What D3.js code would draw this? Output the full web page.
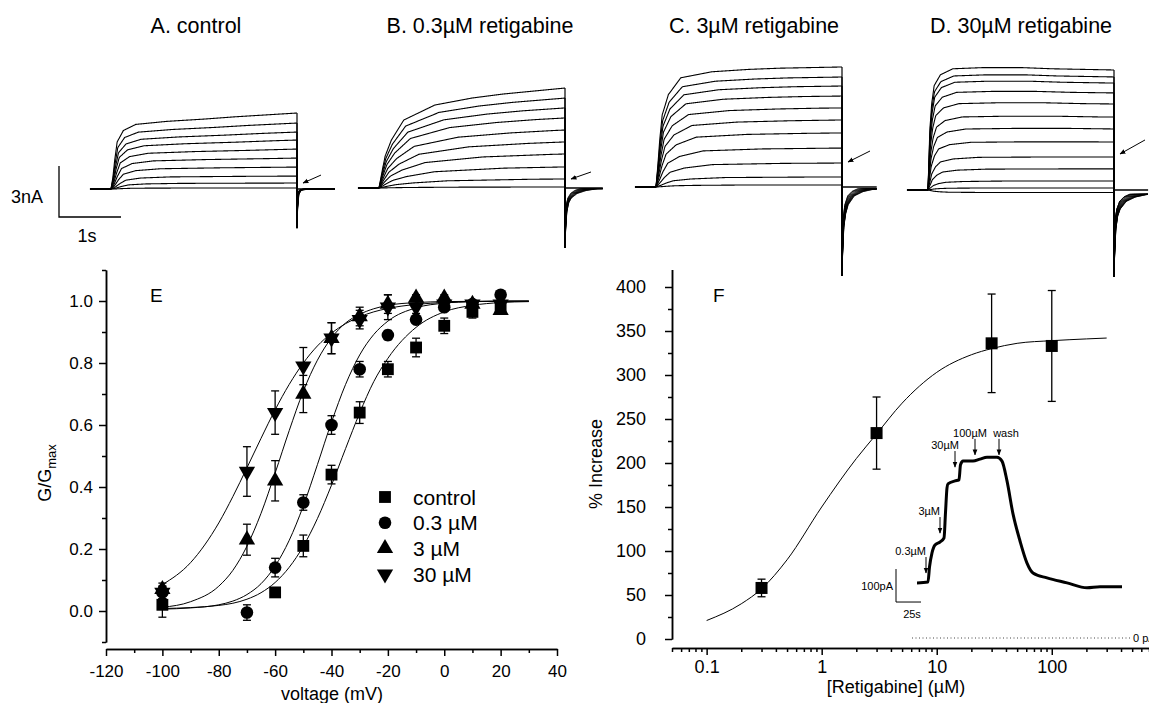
<!DOCTYPE html>
<html>
<head>
<meta charset="utf-8">
<script src="https://cdnjs.cloudflare.com/ajax/libs/d3/7.8.5/d3.min.js"></script>
<style>
  body { margin: 0; background: #fff; }
  svg { display: block; font-family: "Liberation Sans", Arial, sans-serif; }
</style>
</head>
<body>
<svg id="fig" width="1149" height="703"></svg>
<script>

// ---------- A-D: current traces ----------
const traceTitles = ["A. control", "B. 0.3\u00b5M retigabine", "C. 3\u00b5M retigabine", "D. 30\u00b5M retigabine"];

// current at the end of the 3 s step, one value per sweep (nA)
const ampControl = [4.47, 3.88, 3.35, 2.88, 2.35, 1.82, 1.29, 0.76, 0.35, 0.06];
const ampRtg03 = [5.88, 5.29, 4.71, 4.12, 3.41, 2.71, 2.0, 1.24, 0.53, 0.06];
const ampRtg3 = [7.06, 6.47, 5.94, 5.35, 4.65, 3.94, 3.18, 2.29, 1.41, 0.59, 0.12];
const ampRtg30 = [7.06, 6.65, 6.29, 5.71, 5.06, 4.29, 3.59, 2.82, 1.94, 1.24, 0.53, 0.12, -0.15];

// activation time course of the largest sweep (fraction of end current)
const riseTime = [0, 0.03, 0.06, 0.1, 0.2, 0.4, 0.9, 1.5, 2, 3];
const riseControl = [0, 0.15, 0.38, 0.62, 0.77, 0.85, 0.89, 0.92, 0.95, 1];
const riseRtg03 = [0, 0.10, 0.20, 0.32, 0.48, 0.68, 0.83, 0.90, 0.94, 1];
const riseRtg3 = [0, 0.18, 0.39, 0.60, 0.77, 0.91, 0.96, 0.98, 0.99, 1];
const riseRtg30 = [0, 0.50, 0.72, 0.87, 0.96, 1.01, 1.02, 1.02, 1.01, 1];

// tail current after the step (fraction of peak), and peak (nA)
const tailTime = [0, 0.01, 0.03, 0.06, 0.1, 0.2, 0.35, 0.55];
const tailControl = [1, 0.5, 0.15, 0.05, 0.02, 0.005, 0, 0];
const tailRtg03 = [1, 0.7, 0.4, 0.25, 0.17, 0.09, 0.04, 0.01];
const tailRtg3 = [1, 0.75, 0.45, 0.3, 0.2, 0.1, 0.05, 0.02];
const tailRtg30 = [1, 0.75, 0.45, 0.3, 0.22, 0.13, 0.08, 0.05];
const tailPeak = [-2.3, -3.5, -5.2, -5.1];
// level the small arrows point at (nA, just after the step)
const arrowLevel = [0.35, 0.53, 1.47, 2.12];

// ---------- E: conductance-voltage ----------
const eVolt = [-100, -70, -60, -50, -40, -30, -20, -10, 0, 10, 20];
const eControl = [0.02, null, 0.06, 0.21, 0.44, 0.64, 0.78, 0.85, 0.92, 0.965, 0.98];
const eControlErr = [0.04, null, 0.01, 0.035, 0.03, 0.035, 0.025, 0.03, 0.025, 0.02, 0.02];
const eRtg03 = [0.06, -0.005, 0.14, 0.35, 0.60, 0.78, 0.89, 0.94, 0.98, 0.99, 1.02];
const eRtg03Err = [0.02, 0.025, 0.03, 0.025, 0.03, 0.025, 0.015, 0.01, 0.01, 0.01, 0.01];
const eRtg3 = [0.07, 0.23, 0.42, 0.70, 0.88, 0.95, 0.99, 1.01, 1.01, 0.99, 0.97];
const eRtg3Err = [0.02, 0.05, 0.065, 0.06, 0.05, 0.03, 0.03, 0.01, 0.01, 0.01, 0.01];
const eRtg30 = [0.06, 0.45, 0.64, 0.79, 0.88, 0.94, 0.98, 0.98, 0.99, 0.99, 0.99];
const eRtg30Err = [0.02, 0.08, 0.07, 0.06, 0.05, 0.03, 0.04, 0.02, 0.01, 0.01, 0.01];
const eNames = ["control", "0.3 \u00b5M", "3 \u00b5M", "30 \u00b5M"];

// fitted curves
const fitVolt = [-100, -90, -80, -75, -70, -65, -60, -55, -50, -45, -40, -35, -30, -25, -20, -10, 0, 10, 20, 30];
const fitControl = [0.008, 0.011, 0.018, 0.025, 0.038, 0.059, 0.092, 0.141, 0.209, 0.298, 0.406, 0.524, 0.639, 0.740, 0.815, 0.915, 0.965, 0.986, 0.995, 0.998];
const fitRtg03 = [0.006, 0.010, 0.020, 0.032, 0.053, 0.088, 0.145, 0.228, 0.339, 0.472, 0.609, 0.731, 0.826, 0.892, 0.935, 0.978, 0.993, 0.998, 0.999, 1.0];
const fitRtg3 = [0.012, 0.030, 0.080, 0.131, 0.209, 0.315, 0.445, 0.582, 0.709, 0.809, 0.881, 0.929, 0.957, 0.975, 0.986, 0.995, 0.998, 0.999, 1.0, 1.0];
const fitRtg30 = [0.085, 0.156, 0.284, 0.369, 0.462, 0.557, 0.649, 0.731, 0.800, 0.855, 0.896, 0.927, 0.949, 0.965, 0.976, 0.989, 0.995, 0.998, 0.999, 0.999];

const eXTicks = [-120, -100, -80, -60, -40, -20, 0, 20, 40];
const eYTicks = [0.0, 0.2, 0.4, 0.6, 0.8, 1.0];

// ---------- F: concentration-response ----------
const fConc = [0.3, 3, 30, 100];
const fIncrease = [58, 234, 336, 333];
const fErr = [10, 41, 56, 63];
const fitConc = [0.1, 0.2, 0.3, 0.5, 1, 2, 3, 5, 10, 20, 30, 50, 100, 200, 300];
const fitIncrease = [21, 40, 57, 90, 150, 205, 233, 268, 303, 323, 330, 336, 339, 341, 342];
const fXTicks = [0.1, 1, 10, 100];
const fYTicks = [0, 50, 100, 150, 200, 250, 300, 350, 400];

// inset: holding current during cumulative application (s, pA)
const insetTime = [0, 11, 12.5, 15, 18, 23, 27, 28.5, 30, 31, 38, 42, 43.5, 46, 56, 63, 70, 80, 85, 90, 96, 103, 110, 116, 130, 150, 170, 183, 205];
const insetCurrent = [167, 170, 215, 258, 282, 291, 303, 380, 455, 467, 476, 479, 525, 536, 536, 542, 548, 548, 536, 476, 376, 294, 227, 197, 182, 167, 152, 155, 155];
const insetEvents = ["0.3\u00b5M", "3\u00b5M", "30\u00b5M", "100\u00b5M", "wash"];
const insetEventTime = [9, 23, 38, 58, 82];
const insetEventLevel = [197, 318, 518, 555, 555];


const svg = d3.select('#fig');
svg.append('rect').attr('width', 1149).attr('height', 703).attr('fill', '#fff');

svg.append('defs').append('marker')
    .attr('id', 'head')
    .attr('viewBox', '0 0 10 10')
    .attr('refX', 9).attr('refY', 5)
    .attr('markerWidth', 6).attr('markerHeight', 6)
    .attr('orient', 'auto')
    .append('path')
    .attr('d', 'M0,1 L10,5 L0,9 z')
    .attr('fill', '#000');


// ================= traces =================
const pxPerSec = 62, pxPerNA = 17;
const panelLayout = [
  {x0: 111, y0: 189, tStart: -0.34, tEnd: 3.61, titleX: 196, arrow: [18, -8]},
  {x0: 379, y0: 188, tStart: -0.34, tEnd: 3.61, titleX: 480, arrow: [20, -7]},
  {x0: 656, y0: 187, tStart: -0.34, tEnd: 3.56, titleX: 754, arrow: [22, -11]},
  {x0: 928, y0: 190, tStart: -0.34, tEnd: 3.55, titleX: 1021, arrow: [25, -14]}
];
const ampSets = [ampControl, ampRtg03, ampRtg3, ampRtg30];
const riseSets = [riseControl, riseRtg03, riseRtg3, riseRtg30];
const tailSets = [tailControl, tailRtg03, tailRtg3, tailRtg30];

panelLayout.forEach(function(p, ix) {
  const g = svg.append('g');
  const x = d3.scaleLinear().domain([0, 1]).range([p.x0, p.x0 + pxPerSec]);
  const y = d3.scaleLinear().domain([0, 1]).range([p.y0, p.y0 - pxPerNA]);
  const rise = d3.scaleLinear().domain(riseTime).range(riseSets[ix]).clamp(true);
  const tail = d3.scaleLinear().domain(tailTime).range(tailSets[ix]).clamp(true);
  const amps = ampSets[ix];
  const maxAmp = d3.max(amps);
  const line = d3.line().x(d => x(d[0])).y(d => y(d[1])).curve(d3.curveMonotoneX);
  const stepT = d3.range(0, 3.0001, 0.01);
  const tailT = d3.range(0, p.tEnd - 3 + 0.0001, 0.004);

  g.append('text')
      .attr('x', p.titleX).attr('y', 33)
      .attr('text-anchor', 'middle')
      .attr('font-size', 21.5)
      .text(traceTitles[ix]);

  // holding level before and after
  g.append('line')
      .attr('x1', x(p.tStart)).attr('x2', x(0))
      .attr('y1', y(0)).attr('y2', y(0))
      .attr('stroke', '#000').attr('stroke-width', 2);
  g.append('line')
      .attr('x1', x(3)).attr('x2', x(p.tEnd))
      .attr('y1', y(0)).attr('y2', y(0))
      .attr('stroke', '#000').attr('stroke-width', 1.6);

  amps.forEach(function(a) {
    const rel = Math.abs(a) / maxAmp;
    const f = 0.3 + 0.7 * rel;
    const norm = rise(3 * f);
    g.append('path')
        .attr('d', line(stepT.map(t => [t, a * rise(t * f) / norm])))
        .attr('fill', 'none').attr('stroke', '#000').attr('stroke-width', 1.1);

    const gt = 0.45 + 0.55 * rel;
    g.append('path')
        .attr('d', line(tailT.map(s => [3 + s, tailPeak[ix] * tail(s / gt)])))
        .attr('fill', 'none').attr('stroke', '#000').attr('stroke-width', 1);

    g.append('line')
        .attr('x1', x(3)).attr('x2', x(3))
        .attr('y1', y(a)).attr('y2', y(tailPeak[ix]))
        .attr('stroke', '#000').attr('stroke-width', 1.2);
  });

  // arrow at the end of the step
  const ax = x(3) + 6, ay = y(arrowLevel[ix]);
  g.append('line')
      .attr('x1', ax + p.arrow[0]).attr('y1', ay + p.arrow[1])
      .attr('x2', ax).attr('y2', ay)
      .attr('stroke', '#000').attr('stroke-width', 1)
      .attr('marker-end', 'url(#head)');
});

// scale bar 3 nA / 1 s
const sb = svg.append('g');
sb.append('path')
    .attr('d', d3.line()([[59, 217 - 3 * pxPerNA], [59, 217], [59 + pxPerSec, 217]]))
    .attr('fill', 'none').attr('stroke', '#000').attr('stroke-width', 1.3);
sb.append('text').attr('x', 43).attr('y', 203).attr('text-anchor', 'end').attr('font-size', 18).text('3nA');
sb.append('text').attr('x', 87).attr('y', 242).attr('text-anchor', 'middle').attr('font-size', 18).text('1s');


// ================= E =================
const xE = d3.scaleLinear().domain([-120, 40]).range([106, 557]);
const yE = d3.scaleLinear().domain([-0.1, 1.1]).range([642, 270]);
const gE = svg.append('g');

function styleAxis(sel, fs) {
  sel.selectAll('path, line').attr('stroke', '#000').attr('stroke-width', 1.5);
  sel.selectAll('text').attr('font-size', fs).attr('fill', '#000').attr('font-family', '"Liberation Sans", Arial, sans-serif');
}

gE.append('g').attr('transform', 'translate(106,0)')
    .call(d3.axisLeft(yE).tickValues(eYTicks).tickFormat(d3.format('.1f')).tickSize(7).tickSizeOuter(0).tickPadding(6))
    .call(styleAxis, 17);
gE.append('g').attr('transform', 'translate(106,0)')
    .call(d3.axisLeft(yE).tickValues([-0.1, 0.1, 0.3, 0.5, 0.7, 0.9, 1.1]).tickFormat('').tickSize(4).tickSizeOuter(0))
    .call(styleAxis, 17);
gE.append('g').attr('transform', 'translate(0,649)')
    .call(d3.axisBottom(xE).tickValues(eXTicks).tickFormat(d3.format('d')).tickSize(7).tickSizeOuter(0).tickPadding(9))
    .call(styleAxis, 17);
gE.append('g').attr('transform', 'translate(0,649)')
    .call(d3.axisBottom(xE).tickValues([-110, -90, -70, -50, -30, -10, 10, 30]).tickFormat('').tickSize(4).tickSizeOuter(0))
    .call(styleAxis, 17);
gE.selectAll('.tick text').text(function() { return this.textContent.replace('\u2212', '-'); });

gE.append('text').attr('x', 150).attr('y', 302).attr('font-size', 19).text('E');

const yLab = gE.append('text')
    .attr('transform', 'translate(51,473) rotate(-90)')
    .attr('text-anchor', 'middle')
    .attr('font-size', 18);
yLab.append('tspan').text('G/G');
yLab.append('tspan').attr('font-size', 13).attr('dy', 5).text('max');

gE.append('text').attr('x', 332).attr('y', 700).attr('text-anchor', 'middle').attr('font-size', 18).text('voltage (mV)');

const eSeries = [
  {vals: eControl, err: eControlErr, fit: fitControl, sym: d3.symbolSquare, size: 140, rot: 0},
  {vals: eRtg03, err: eRtg03Err, fit: fitRtg03, sym: d3.symbolCircle, size: 125, rot: 0},
  {vals: eRtg3, err: eRtg3Err, fit: fitRtg3, sym: d3.symbolTriangle, size: 115, rot: 0},
  {vals: eRtg30, err: eRtg30Err, fit: fitRtg30, sym: d3.symbolTriangle, size: 115, rot: 180}
];

const fitLineE = d3.line().x(d => xE(d[0])).y(d => yE(d[1])).curve(d3.curveMonotoneX);
eSeries.forEach(function(s) {
  gE.append('path')
      .attr('d', fitLineE(fitVolt.map((v, i) => [v, s.fit[i]])))
      .attr('fill', 'none').attr('stroke', '#000').attr('stroke-width', 1);
});

eSeries.forEach(function(s) {
  const pts = eVolt.map((v, i) => ({v: v, m: s.vals[i], e: s.err[i]})).filter(d => d.m !== null);
  const eb = gE.append('g').attr('stroke', '#000').attr('stroke-width', 1.3);
  pts.forEach(function(d) {
    const cx = xE(d.v);
    eb.append('line').attr('x1', cx).attr('x2', cx).attr('y1', yE(d.m - d.e)).attr('y2', yE(d.m + d.e));
    [d.m - d.e, d.m + d.e].forEach(function(c) {
      eb.append('line').attr('x1', cx - 4).attr('x2', cx + 4).attr('y1', yE(c)).attr('y2', yE(c));
    });
  });
  gE.append('g').selectAll('path')
      .data(pts)
      .join('path')
      .attr('transform', d => 'translate(' + xE(d.v) + ',' + yE(d.m) + ') rotate(' + s.rot + ')')
      .attr('d', d3.symbol().type(s.sym).size(s.size))
      .attr('fill', '#000');
});

// legend
eSeries.forEach(function(s, i) {
  const ly = 497 + i * 25.7;
  gE.append('path')
      .attr('transform', 'translate(385,' + ly + ') rotate(' + s.rot + ')')
      .attr('d', d3.symbol().type(s.sym).size(s.size))
      .attr('fill', '#000');
  gE.append('text')
      .attr('x', 413).attr('y', ly).attr('dy', '0.36em')
      .attr('font-size', 21)
      .text(eNames[i]);
});


// ================= F =================
const xF = d3.scaleLog().domain([0.05, 700]).range([672, 1149]);
const yF = d3.scaleLinear().domain([0, 420]).range([639, 639 - 420 * 0.88]);
const gF = svg.append('g');

gF.append('g').attr('transform', 'translate(672,0)')
    .call(d3.axisLeft(yF).tickValues(fYTicks).tickFormat(d3.format('d')).tickSize(7).tickSizeOuter(0).tickPadding(19))
    .call(styleAxis, 18);
gF.append('g').attr('transform', 'translate(672,0)')
    .call(d3.axisLeft(yF).tickValues(d3.range(25, 420, 50)).tickFormat('').tickSize(4).tickSizeOuter(0))
    .call(styleAxis, 18);
gF.append('g').attr('transform', 'translate(0,648)')
    .call(d3.axisBottom(xF).tickValues(fXTicks).tickFormat(d => String(d)).tickSize(7).tickSizeOuter(0).tickPadding(5))
    .call(styleAxis, 18);
gF.append('g').attr('transform', 'translate(0,648)')
    .call(d3.axisBottom(xF).tickValues(xF.ticks().filter(t => fXTicks.indexOf(t) < 0)).tickFormat('').tickSize(4).tickSizeOuter(0))
    .call(styleAxis, 18);

gF.append('text').attr('x', 713).attr('y', 302).attr('font-size', 19).text('F');
gF.append('text')
    .attr('transform', 'translate(602,464) rotate(-90)')
    .attr('text-anchor', 'middle')
    .attr('font-size', 18)
    .text('% Increase');
gF.append('text').attr('x', 896).attr('y', 693).attr('text-anchor', 'middle').attr('font-size', 18)
    .text('[Retigabine] (\u00b5M)');

gF.append('path')
    .attr('d', d3.line().x(d => xF(d[0])).y(d => yF(d[1])).curve(d3.curveMonotoneX)(fitConc.map((c, i) => [c, fitIncrease[i]])))
    .attr('fill', 'none').attr('stroke', '#000').attr('stroke-width', 1);

const ebF = gF.append('g').attr('stroke', '#000').attr('stroke-width', 1.3);
fConc.forEach(function(c, i) {
  const cx = xF(c);
  ebF.append('line').attr('x1', cx).attr('x2', cx).attr('y1', yF(fIncrease[i] - fErr[i])).attr('y2', yF(fIncrease[i] + fErr[i]));
  [fIncrease[i] - fErr[i], fIncrease[i] + fErr[i]].forEach(function(v) {
    ebF.append('line').attr('x1', cx - 4).attr('x2', cx + 4).attr('y1', yF(v)).attr('y2', yF(v));
  });
});
gF.append('g').selectAll('path')
    .data(fConc)
    .join('path')
    .attr('transform', (c, i) => 'translate(' + xF(c) + ',' + yF(fIncrease[i]) + ')')
    .attr('d', d3.symbol().type(d3.symbolSquare).size(144))
    .attr('fill', '#000');

// inset trace
const xIn = d3.scaleLinear().domain([0, 100]).range([917, 1017]);
const yIn = d3.scaleLinear().domain([0, 100]).range([638, 605]);
const gIn = gF.append('g');

gIn.append('line')
    .attr('x1', xIn(-5)).attr('x2', xIn(213))
    .attr('y1', yIn(0)).attr('y2', yIn(0))
    .attr('stroke', '#444').attr('stroke-width', 1).attr('stroke-dasharray', '1,2.5');
gIn.append('text').attr('x', xIn(216)).attr('y', yIn(0)).attr('dy', '0.35em').attr('font-size', 11).text('0 pA');

gIn.append('path')
    .attr('d', d3.line().x(d => xIn(d[0])).y(d => yIn(d[1])).curve(d3.curveMonotoneX)(insetTime.map((t, i) => [t, insetCurrent[i]])))
    .attr('fill', 'none').attr('stroke', '#000').attr('stroke-width', 3).attr('stroke-linejoin', 'round');

const evAnchor = [['end', 0], ['end', 0], ['end', 4], ['middle', -5], ['middle', 7]];
insetEvents.forEach(function(name, i) {
  const ax = xIn(insetEventTime[i]);
  const tip = yIn(insetEventLevel[i]);
  gIn.append('line')
      .attr('x1', ax).attr('x2', ax).attr('y1', tip - 16).attr('y2', tip)
      .attr('stroke', '#000').attr('stroke-width', 1)
      .attr('marker-end', 'url(#head)');
  gIn.append('text')
      .attr('x', ax + evAnchor[i][1]).attr('y', tip - 18)
      .attr('text-anchor', evAnchor[i][0])
      .attr('font-size', 11)
      .text(name);
});

// inset scale bar 100 pA / 25 s
gIn.append('path')
    .attr('d', d3.line()([[xIn(-21), yIn(209)], [xIn(-21), yIn(109)], [xIn(4), yIn(109)]]))
    .attr('fill', 'none').attr('stroke', '#000').attr('stroke-width', 1);
gIn.append('text').attr('x', xIn(-24)).attr('y', yIn(145)).attr('text-anchor', 'end').attr('font-size', 11).text('100pA');
gIn.append('text').attr('x', xIn(-5)).attr('y', yIn(109) + 16).attr('text-anchor', 'middle').attr('font-size', 11).text('25s');

</script>
</body>
</html>
